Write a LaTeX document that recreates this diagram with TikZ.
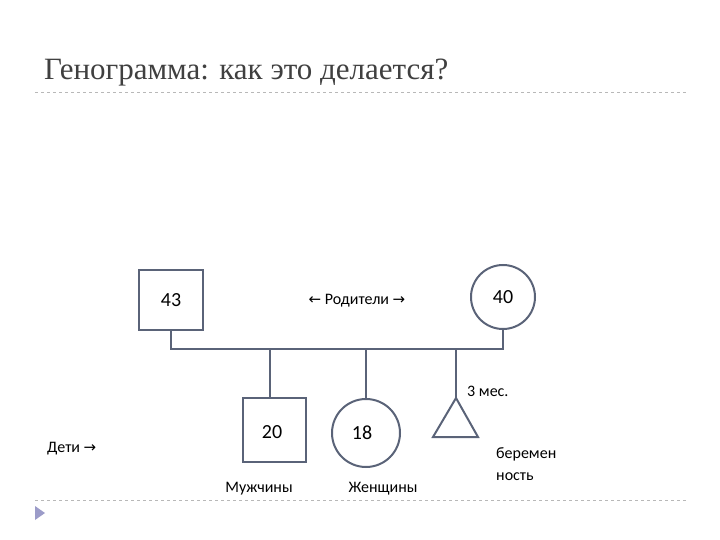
\documentclass[tikz,border=0pt]{standalone}
\usepackage{fontspec}
\setmainfont{Carlito}
\newfontfamily\titlefont{Liberation Serif}
\newfontfamily\symfont{DejaVu Sans}
\begin{document}
\begin{tikzpicture}[x=1pt,y=-1pt,
  shp/.style={draw=linec,line width=2pt},
  conn/.style={draw=linec,line width=2pt},
  lbl/.style={font=\fontsize{16}{18}\selectfont,inner sep=0pt},
  num/.style={font=\fontsize{20}{22}\selectfont}]
\definecolor{linec}{HTML}{5A6378}
\definecolor{dashc}{HTML}{B8B8B8}
\useasboundingbox (0,0) rectangle (720,540);
\node[anchor=base west,inner sep=0pt,font=\titlefont\fontsize{31}{34}\selectfont,text=black!75] (title) at (44,80) {Генограмма: как это делается?};
\draw[dashc,dashed,line width=0.8pt] (35,92) -- (688,92);
\draw[dashc,dashed,line width=0.8pt] (35,500) -- (688,500);
\fill[fill=blue!30!gray!60] (35,506) -- (45,513) -- (35,520) -- cycle;
\node[shp,minimum width=64pt,minimum height=60pt,inner sep=0pt] (f) at (171,300) {};
\node[num] at (171,300) {43};
\node[shp,circle,minimum size=64pt,inner sep=0pt] (m) at (503,297) {};
\node[num] at (503,297) {40};
\node[lbl] (par) at (357,301) {{\symfont\fontsize{15}{16}\selectfont ←} Родители {\symfont\fontsize{15}{16}\selectfont →}};
\node[shp,minimum width=63pt,minimum height=64pt,inner sep=0pt] (s) at (274,430) {};
\node[num] at (272,432) {20};
\node[shp,circle,minimum size=68pt,inner sep=0pt] (d) at (366,433) {};
\node[num] at (362,433) {18};
\coordinate (tri) at (456,398);
\draw[shp,line join=miter] (tri) -- (478,437) -- (433,437) -- cycle;
\coordinate (j1) at (171,349);
\coordinate (j2) at (503,349);
\coordinate (js) at (270,349);
\coordinate (jd) at (366,349);
\coordinate (jt) at (456,349);
\draw[conn] (f.south) -- (j1) -- (j2) -- (m.south);
\draw[conn] (js) -- (js |- s.north);
\draw[conn] (jd) -- (d.north);
\draw[conn] (jt) -- (tri);
\node[lbl,anchor=west] (mes) at (467,391) {3 мес.};
\node[lbl,anchor=west,align=left,font=\fontsize{16}{22}\selectfont] (pr) at (496,464) {беремен\\ность};
\node[lbl,anchor=west] (kids) at (47,449) {Дети {\symfont\fontsize{15}{16}\selectfont →}};
\node[lbl] (men) at (259,489) {Мужчины};
\node[lbl] (wom) at (383,489) {Женщины};
\end{tikzpicture}
\end{document}
